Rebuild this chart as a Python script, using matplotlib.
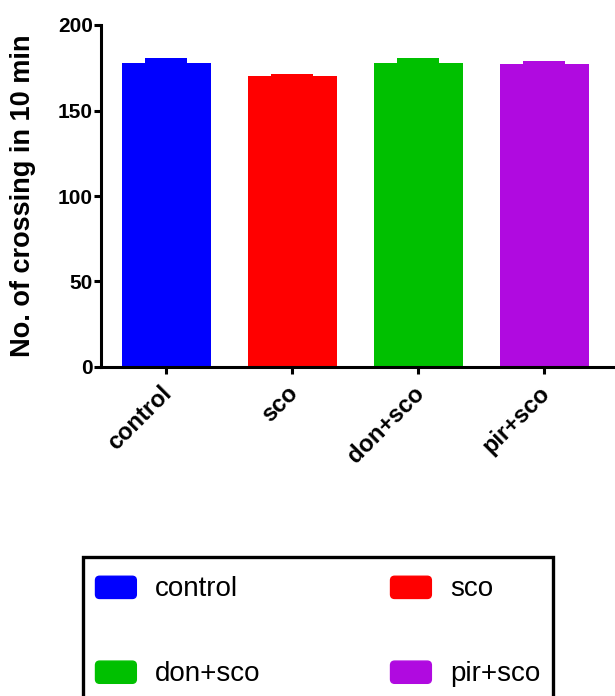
import numpy as np
import matplotlib.pyplot as plt
from matplotlib.patches import Patch, FancyBboxPatch
from matplotlib.legend_handler import HandlerPatch

plt.rcParams['font.family'] = ['Liberation Sans', 'DejaVu Sans']

# data
groups = ['control', 'sco', 'don+sco', 'pir+sco']
crossings = [178, 170, 178, 177.4]
sem = [2.5, 1.2, 2.5, 1.8]
colors = ['#0000FF', '#FF0000', '#00C000', '#B00AE0']

fig = plt.figure(figsize=(6.15, 6.96), dpi=100)
ax = fig.add_axes([101/615, 1-367/696, 1-101/615, (367-25)/696])

x = np.arange(len(groups))
ax.bar(x, crossings, width=0.706, color=colors, zorder=2)
# error caps drawn as narrow blocks in the bar colour
ax.bar(x, sem, bottom=crossings, width=0.333, color=colors, zorder=2)

ax.set_xlim(-0.516, 3.563)
ax.set_ylim(0, 200)
ax.set_yticks([0, 50, 100, 150, 200])
ax.set_xticks(x)
ax.set_xticklabels([''] * len(groups))
# rotated group names, nudged a little left of their ticks
for xi, g in zip(x, groups):
    ax.annotate(g, xy=(xi, 0), xycoords=('data', 'axes fraction'),
                xytext=(-4.3, -10.5), textcoords='offset points',
                rotation=45, ha='right', va='top', rotation_mode='anchor',
                fontsize=17, fontweight='bold')
for lab in ax.get_yticklabels():
    lab.set_fontweight('bold')
    lab.set_fontsize(15)
ax.tick_params(width=2.2, length=5, direction='out')
ax.tick_params(axis='y', pad=0.8)
ax.spines['top'].set_visible(False)
ax.spines['right'].set_visible(False)
ax.spines['left'].set_linewidth(2.2)
ax.spines['bottom'].set_linewidth(2.2)
ax.set_ylabel('No. of crossing in 10 min', fontsize=19.5, fontweight='bold',
              va='bottom')
ax.yaxis.set_label_coords(-0.126, 0.5)


def rounded(legend, orig_handle, xdescent, ydescent, width, height, fontsize):
    h = 0.8 * fontsize
    return FancyBboxPatch((-xdescent, -ydescent + (height - h) / 2), width, h,
                          boxstyle='round,pad=0,rounding_size=3')


# legend fills column by column, so order it to read row by row
order = [0, 2, 1, 3]
handles = [Patch(color=colors[i]) for i in order]
labels = [groups[i] for i in order]
leg = fig.legend(handles, labels, ncol=2, loc='upper left',
                 bbox_to_anchor=(83/615, 0, 470/615, 1-557/696), mode='expand',
                 fontsize=20, fancybox=False, edgecolor='black', framealpha=1,
                 handlelength=1.47, handleheight=1.6, handletextpad=0.68,
                 labelspacing=1.77, borderpad=0.45, borderaxespad=0,
                 handler_map={Patch: HandlerPatch(patch_func=rounded)})
leg.get_frame().set_linewidth(2.4)

plt.savefig('out.png', dpi=100)
